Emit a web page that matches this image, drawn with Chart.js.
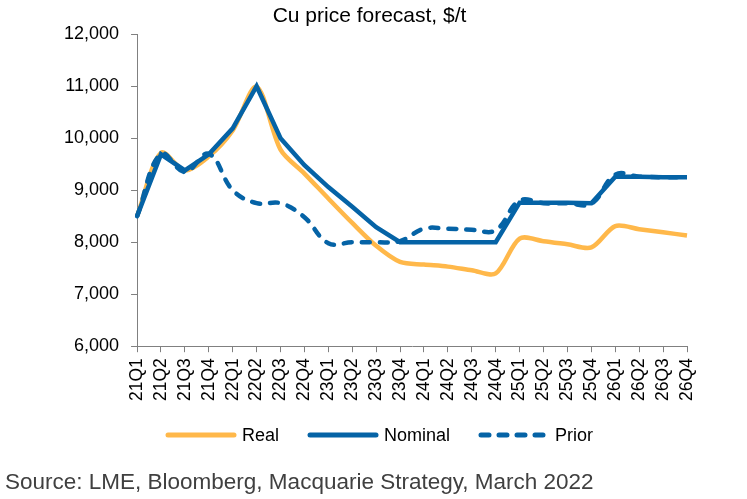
<!DOCTYPE html>
<html>
<head>
<meta charset="utf-8">
<title>Cu price forecast</title>
<script src="https://cdn.jsdelivr.net/npm/chart.js@4.4.1/dist/chart.umd.min.js"></script>
<style>
  html, body { margin: 0; padding: 0; background: #fff; }
  #wrap { position: relative; width: 747px; height: 499px; }
</style>
</head>
<body>
<div id="wrap"><canvas id="cu_chart"></canvas></div>
<script>
'use strict';

// quarters on the x axis
var quarters = ['21Q1', '21Q2', '21Q3', '21Q4', '22Q1', '22Q2', '22Q3', '22Q4',
                '23Q1', '23Q2', '23Q3', '23Q4', '24Q1', '24Q2', '24Q3', '24Q4',
                '25Q1', '25Q2', '25Q3', '25Q4', '26Q1', '26Q2', '26Q3', '26Q4'];

// $/t
var real_price    = [8500, 9720, 9380, 9650, 10150, 10990, 9780, 9320,
                     8840, 8370, 7930, 7620, 7570, 7530, 7460, 7400,
                     8070, 8020, 7960, 7900, 8310, 8250, 8190, 8130];
var nominal_price = [8500, 9690, 9380, 9690, 10190, 11000, 10000, 9480,
                     9060, 8680, 8290, 8000, 8000, 8000, 8000, 8000,
                     8760, 8760, 8760, 8750, 9260, 9260, 9250, 9250];
var prior_price   = [8500, 9700, 9350, 9700, 9000, 8750, 8750, 8480,
                     7980, 8000, 8000, 8020, 8260, 8260, 8240, 8230,
                     8800, 8750, 8750, 8740, 9300, 9260, 9250, 9250];

var y_min = 6000, y_max = 12000, y_step = 1000;

var font_family = "'Liberation Sans', Arial, sans-serif";
var orange = '#FFB84A';
var blue = '#0563A6';
var axis_grey = '#808080';

// legend + source line drawn under the axis
var bottomText = {
    id: 'bottomText',
    afterDraw: function (chart) {
        var ctx = chart.ctx;
        var items = [
            { ds: 0, x: 166 },
            { ds: 1, x: 308 },
            { ds: 2, x: 479 }
        ];
        ctx.save();
        ctx.font = '18px ' + font_family;
        ctx.textBaseline = 'middle';
        items.forEach(function (it) {
            var ds = chart.data.datasets[it.ds];
            ctx.beginPath();
            ctx.strokeStyle = ds.borderColor;
            ctx.lineWidth = 5;
            ctx.lineCap = 'round';
            ctx.setLineDash(ds.borderDash ? [8, 10] : []);
            ctx.moveTo(it.x + 2, 435);
            ctx.lineTo(it.x + 68, 435);
            ctx.stroke();
            ctx.setLineDash([]);
            ctx.fillStyle = '#000';
            ctx.fillText(ds.label, it.x + 76, 436);
        });
        ctx.font = '22.5px ' + font_family;
        ctx.fillStyle = '#404040';
        ctx.fillText('Source: LME, Bloomberg, Macquarie Strategy, March 2022', 5, 483);
        ctx.restore();
    }
};

var ctx = document.getElementById('cu_chart').getContext('2d');
var cuChart = new Chart(ctx, {
    type: 'line',
    data: {
        labels: quarters,
        datasets: [{
            label: 'Real',
            data: real_price,
            borderColor: orange,
            backgroundColor: orange,
            borderWidth: 4.5,
            tension: 0.3,
            pointRadius: 0,
            order: 3
        }, {
            label: 'Nominal',
            data: nominal_price,
            borderColor: blue,
            backgroundColor: blue,
            borderWidth: 4.5,
            tension: 0,
            pointRadius: 0,
            order: 2
        }, {
            label: 'Prior',
            data: prior_price,
            borderColor: blue,
            backgroundColor: blue,
            borderWidth: 4.5,
            borderDash: [8, 10],
            borderCapStyle: 'round',
            tension: 0.4,
            pointRadius: 0,
            order: 1
        }]
    },
    options: {
        responsive: true,
        maintainAspectRatio: false,
        animation: false,
        layout: {
            padding: { left: 52, right: 60, top: 0, bottom: 92 }
        },
        plugins: {
            legend: { display: false },
            tooltip: { enabled: false },
            title: {
                display: true,
                text: 'Cu price forecast, $/t',
                color: '#000',
                font: { family: font_family, size: 21, weight: 'normal' },
                padding: { top: 4, bottom: 5 }
            }
        },
        scales: {
            x: {
                offset: false,
                grid: {
                    display: true,
                    drawOnChartArea: false,
                    drawTicks: true,
                    tickLength: 6,
                    color: axis_grey
                },
                border: { display: true, color: axis_grey, width: 1 },
                ticks: {
                    color: '#000',
                    font: { family: font_family, size: 17.5 },
                    maxRotation: 90,
                    minRotation: 90,
                    autoSkip: false,
                    padding: 6
                }
            },
            y: {
                min: y_min,
                max: y_max,
                grid: {
                    display: true,
                    drawOnChartArea: false,
                    drawTicks: true,
                    tickLength: 6,
                    color: axis_grey
                },
                border: { display: true, color: axis_grey, width: 1 },
                ticks: {
                    stepSize: y_step,
                    color: '#000',
                    font: { family: font_family, size: 18 },
                    padding: 12,
                    callback: function (v) { return v.toLocaleString('en-US'); }
                }
            }
        }
    },
    plugins: [bottomText]
});
</script>
</body>
</html>
